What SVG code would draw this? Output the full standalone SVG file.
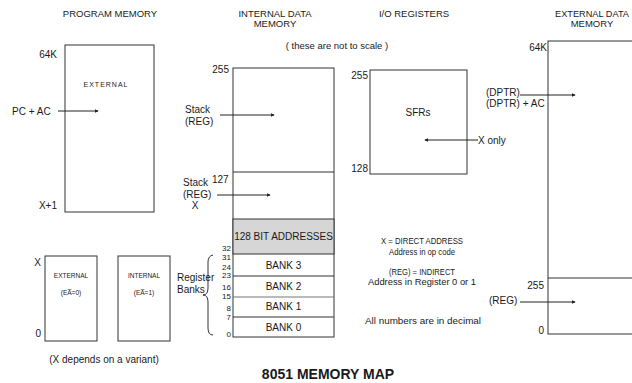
<svg xmlns="http://www.w3.org/2000/svg" width="632" height="383" viewBox="0 0 632 383">
<style>
text{font-family:"Liberation Sans",Arial,sans-serif;fill:#1a1a1a;font-size:10px}
.h{font-size:9.5px}
.m{text-anchor:middle}
.e{text-anchor:end}
.s{font-size:7px}
.xs{font-size:6.5px}
.n{font-size:8px}
.nt{font-size:9.5px}
.box{fill:#fff;stroke:#333;stroke-width:1}
.ln{stroke:#333;stroke-width:1;fill:none}
.ar{stroke:#222;stroke-width:1;fill:none;marker-end:url(#ah)}
.t{font-size:14px;font-weight:bold}
</style>
<defs>
<marker id="ah" viewBox="0 0 6 6" refX="5" refY="3" markerWidth="4" markerHeight="4" orient="auto" markerUnits="userSpaceOnUse">
<path d="M0,0 L6,3 L0,6 z" fill="#222"/>
</marker>
</defs>
<rect width="632" height="383" fill="#fff"/>

<g id="headings">
<text class="h m" x="110" y="17">PROGRAM MEMORY</text>
<text class="h m" x="275" y="17">INTERNAL DATA</text>
<text class="h m" x="275" y="27">MEMORY</text>
<text class="h m" x="337" y="49">( these are not to scale )</text>
<text class="h m" x="414" y="17">I/O REGISTERS</text>
<text class="h" x="555" y="17" font-size="9" textLength="74" lengthAdjust="spacingAndGlyphs">EXTERNAL DATA</text>
<text class="h m" x="592" y="27">MEMORY</text>
</g>

<g id="program-external">
<rect class="box" x="65" y="45" width="89" height="167"/>
<text class="s m" x="106" y="87" letter-spacing="1">EXTERNAL</text>
<text class="e" x="57" y="58">64K</text>
<text class="e" x="57" y="209">X+1</text>
<text x="12" y="115">PC + AC</text>
</g>

<g id="program-small-external">
<rect class="box" x="45" y="256" width="52" height="85"/>
<text class="xs m" x="71" y="278">EXTERNAL</text>
<text class="xs m" x="71" y="295">(EA̅=0)</text>
<text class="e" x="41" y="266">X</text>
<text class="e" x="41" y="337">0</text>
</g>

<g id="program-small-internal">
<rect class="box" x="118" y="256" width="52" height="85"/>
<text class="xs m" x="144" y="278">INTERNAL</text>
<text class="xs m" x="144" y="295">(EA̅=1)</text>
</g>
<text class="m" font-size="7.5" x="104" y="363">(X depends on a variant)</text>

<g id="internal-data">
<rect class="box" x="233" y="68" width="101" height="269"/>
<line class="ln" x1="233" y1="172" x2="334" y2="172"/>
<rect x="233" y="219" width="101" height="35" fill="#d6d6d6" stroke="#333"/>
<text class="m" x="283.5" y="240">128 BIT ADDRESSES</text>
<line class="ln" x1="233" y1="276" x2="334" y2="276"/>
<line x1="233" y1="297" x2="334" y2="297" stroke="#777" stroke-width="1.2"/>
<line class="ln" x1="233" y1="317" x2="334" y2="317"/>
<text class="m" x="283.5" y="269">BANK 3</text>
<text class="m" x="283.5" y="290">BANK 2</text>
<text class="m" x="283.5" y="310">BANK 1</text>
<text class="m" x="283.5" y="331">BANK 0</text>
<text class="e" x="229" y="73">255</text>
<text x="212" y="183">127</text>
<text x="185" y="113">Stack</text>
<text x="185" y="125">(REG)</text>
<text x="183" y="186">Stack</text>
<text x="183" y="198">(REG)</text>
<text class="m" x="195" y="209">X</text>
<text class="e n" x="231" y="251">32</text>
<text class="e n" x="231" y="260">31</text>
<text class="e n" x="231" y="269.5">24</text>
<text class="e n" x="231" y="278">23</text>
<text class="e n" x="231" y="290">16</text>
<text class="e n" x="231" y="298.5">15</text>
<text class="e n" x="231" y="311">8</text>
<text class="e n" x="231" y="319.5">7</text>
<text class="e n" x="231" y="337">0</text>
<path class="ln" stroke-width="1.5" d="M213,255 Q208,256 208,262 L208,288 Q208,295 203,295 Q208,295 208,302 L208,328 Q208,335 213,335"/>
<text x="177" y="281">Register</text>
<text x="177" y="293">Banks</text>
</g>

<g id="io-registers">
<rect class="box" x="370" y="70" width="97" height="104"/>
<text class="m" x="418" y="116" font-size="11">SFRs</text>
<text class="e" x="368" y="79">255</text>
<text class="e" x="368" y="172">128</text>
<text x="478" y="144">X only</text>
</g>

<g id="external-data">
<rect class="box" x="548" y="41" width="100" height="293"/>
<line class="ln" x1="548" y1="278" x2="640" y2="278"/>
<text class="e" x="547" y="51">64K</text>
<text class="e" x="544" y="289">255</text>
<text class="e" x="544" y="334">0</text>
<text x="486" y="96">(DPTR)</text>
<text x="486" y="107">(DPTR) + AC</text>
<text x="489" y="304">(REG)</text>
</g>

<g id="notes">
<text class="m nt" x="422" y="244" textLength="82" lengthAdjust="spacingAndGlyphs">X = DIRECT ADDRESS</text>
<text class="m nt" x="422" y="255" textLength="66" lengthAdjust="spacingAndGlyphs">Address in op code</text>
<text class="m nt" x="422" y="275" textLength="66" lengthAdjust="spacingAndGlyphs">(REG) = INDIRECT</text>
<text class="m nt" x="422" y="285" textLength="108" lengthAdjust="spacingAndGlyphs">Address in Register 0 or 1</text>
<text class="m nt" x="423" y="324" textLength="116" lengthAdjust="spacingAndGlyphs">All numbers are in decimal</text>
</g>

<g id="connectors">
<line class="ar" x1="58" y1="111" x2="98" y2="111"/>
<line class="ar" x1="220" y1="115" x2="274" y2="115"/>
<line class="ar" x1="217" y1="195" x2="270" y2="195"/>
<line class="ar" x1="478" y1="140" x2="425" y2="140"/>
<line class="ar" x1="520" y1="95" x2="575" y2="95"/>
<line class="ar" x1="520" y1="302" x2="575" y2="302"/>
</g>

<text class="t m" x="328" y="379">8051 MEMORY MAP</text>
</svg>
